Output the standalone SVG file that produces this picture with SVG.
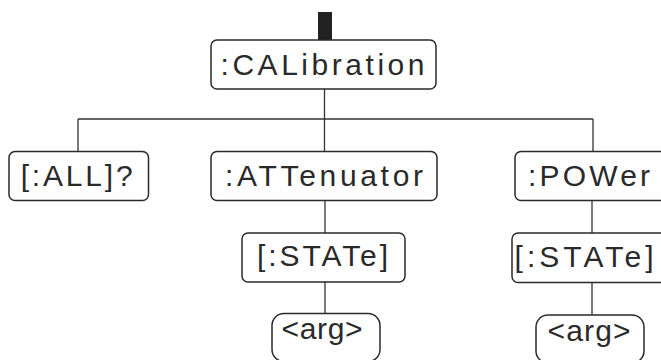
<svg xmlns="http://www.w3.org/2000/svg" width="661" height="360" viewBox="0 0 661 360">
<style>
.box{fill:#fff;stroke:#2a2a2a;stroke-width:1.5}
.t{font-family:"Liberation Sans",Arial,sans-serif;font-size:30px;fill:#2a2a2a;text-anchor:middle}
.c{fill:none;stroke:#333;stroke-width:1.3}
</style>
<rect width="661" height="360" fill="#fff"/>
<g id="connectors">
<rect x="318" y="12" width="14" height="28" fill="#222"/>
<path class="c" d="M324.5 89V151.5M78 119H593M78 119V151.5M593 119V151.5M325 200.5V233M325 282V313.5M592 200.5V233M592 282.5V315"/>
</g>
<g id="calibration">
<rect class="box" x="211" y="40" width="225" height="49" rx="6"/>
<text class="t" x="322.5" y="75" textLength="204" lengthAdjust="spacing">:CALibration</text>
</g>
<g id="all">
<rect class="box" x="9" y="151.5" width="139.5" height="49" rx="6"/>
<text class="t" x="76.7" y="185.5" textLength="112" lengthAdjust="spacing">[:ALL]?</text>
</g>
<g id="attenuator">
<rect class="box" x="211" y="151.5" width="226" height="49" rx="6"/>
<text class="t" x="324" y="185.5" textLength="198" lengthAdjust="spacing">:ATTenuator</text>
</g>
<g id="power">
<rect class="box" x="515" y="151.5" width="170" height="49" rx="6"/>
<text class="t" x="589" y="185.5" textLength="122" lengthAdjust="spacing">:POWer</text>
</g>
<g id="state1">
<rect class="box" x="242" y="233" width="163" height="49" rx="6"/>
<text class="t" x="322.5" y="266" textLength="131" lengthAdjust="spacing">[:STATe]</text>
</g>
<g id="state2">
<rect class="box" x="512" y="233" width="170" height="49.5" rx="6"/>
<text class="t" x="584" y="266.5" textLength="139" lengthAdjust="spacing">[:STATe]</text>
</g>
<g id="arg1">
<rect class="box" x="272" y="313.5" width="108" height="48" rx="12"/>
<text class="t" x="322" y="339" textLength="81" lengthAdjust="spacing">&lt;arg&gt;</text>
</g>
<g id="arg2">
<rect class="box" x="536" y="315" width="108" height="48" rx="12"/>
<text class="t" x="589" y="341" textLength="83" lengthAdjust="spacing">&lt;arg&gt;</text>
</g>
</svg>
